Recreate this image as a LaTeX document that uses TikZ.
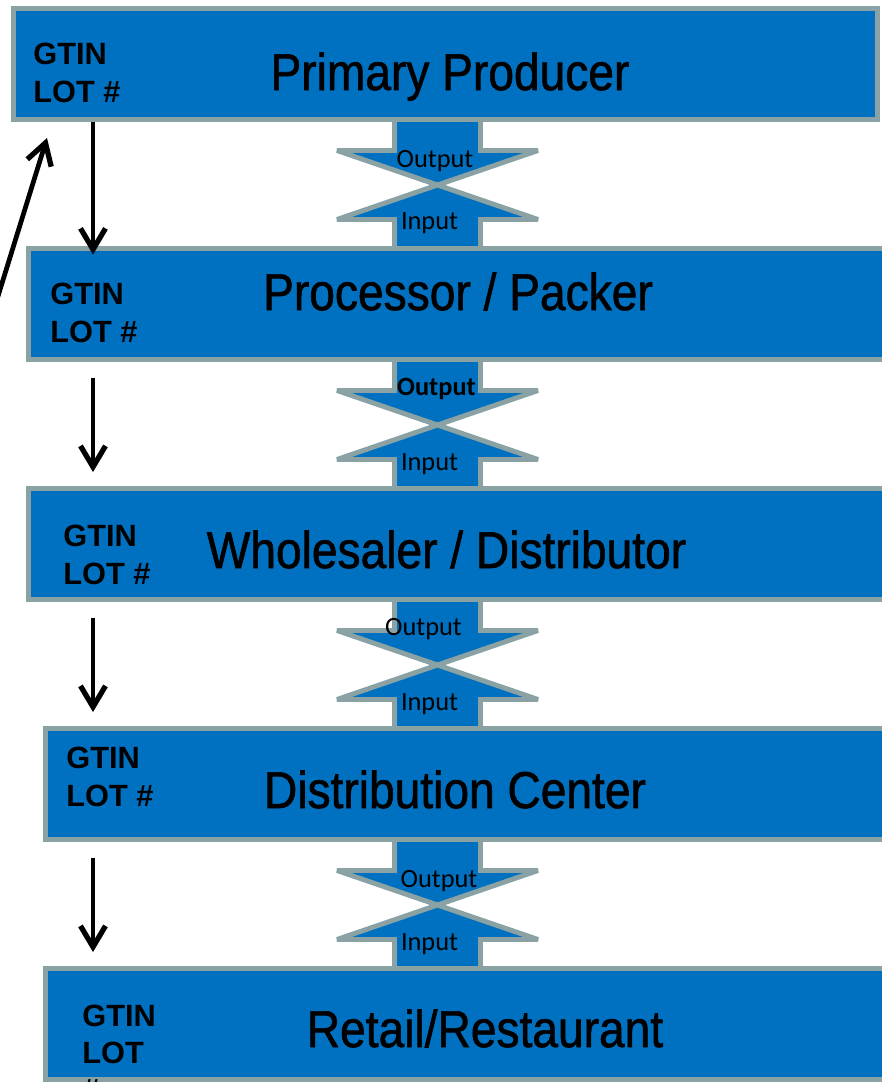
\documentclass[tikz,border=0pt]{standalone}
\usepackage{fontspec}
\setmainfont{Liberation Sans}
\newfontfamily\titlefont{Liberation Sans}[FakeStretch=0.89, FakeBold=1.2]
\newfontfamily\calibrifont{Carlito}
\definecolor{stageblue}{RGB}{0, 112, 192}
\definecolor{stagegray}{RGB}{138, 162, 164}
\usetikzlibrary{arrows.meta, calc}
\tikzset{
	stage/.style={rectangle, draw=stagegray, fill=stageblue, line width=2.8pt, minimum height=2.22cm, inner sep=0pt},
	stagename/.style={anchor=base, inner sep=0pt, font=\titlefont\fontsize{29.5}{34}\selectfont},
	tag/.style={anchor=base west, inner sep=0pt, font=\bfseries\fontsize{17.5}{21}\selectfont},
	io/.style={draw=stagegray, fill=stageblue, line width=2.8pt, line join=miter, miter limit=2},
	iolabel/.style={anchor=base, inner sep=0pt, font=\calibrifont\fontsize{15}{18}\selectfont},
	trace/.style={-{Straight Barb[length=0.42cm, width=0.5cm, line width=3pt]}, line width=2.7pt},
}

\begin{document}
\begin{tikzpicture}[x=0.02cm, y=-0.02cm]
	\fill[white] (0,0) rectangle (882,1082);
	\useasboundingbox (0,0) rectangle (882,1082);
	% output / input arrows between two stages
	\foreach \b in {119.5, 359.5, 599.5, 839.5} {
		\filldraw[io] (394.5,\b) -- (394.5,\b+31) -- (337,\b+31) -- (437.5,\b+65.5) -- (538,\b+31) -- (480.5,\b+31) -- (480.5,\b);
		\filldraw[io] (394.5,\b+129) -- (394.5,\b+100) -- (337,\b+100) -- (437.5,\b+65.5) -- (538,\b+100) -- (480.5,\b+100) -- (480.5,\b+129);
	}
	% stages
	\node[stage, minimum width=17.28cm] (pp) at (445.5,64) {};
	\node[stage, minimum width=17.23cm] (pk) at (459.25,304) {};
	\node[stage, minimum width=17.23cm] (wd) at (459.25,544) {};
	\node[stage, minimum width=16.9cm] (dc) at (467.5,784) {};
	\node[stage, minimum width=16.9cm] (rr) at (467.5,1024) {};
	\node[stagename] (t1) at (450,90) {Primary Producer};
	\node[stagename] (t2) at (458,310) {Processor / Packer};
	\node[stagename] (t3) at (446.5,568) {Wholesaler / Distributor};
	\node[stagename] (t4) at (455,808) {Distribution Center};
	\node[stagename] (t5) at (485,1047) {Retail/Restaurant};
	% codes carried by each stage
	\foreach \n/\x/\y in {1/33/64, 2/50/304, 3/63/546, 4/66/768} {
		\node[tag] (gtin\n) at (\x,\y) {GTIN};
		\node[tag] (lot\n) at (\x,\y+38) {LOT \#};
	}
	\node[tag] (gtin5) at (82,1026) {GTIN};
	\node[tag] (lot5) at (82,1063) {LOT};
	\node[tag] (hash5) at (82,1100) {\#};
	% output / input labels
	\node[iolabel] (out1) at (435,167) {Output};
	\node[iolabel] (in1) at (429.5,229.5) {Input};
	\node[iolabel] (out2) at (436.5,395) {\bfseries Output};
	\node[iolabel] (in2) at (429.5,470) {Input};
	\node[iolabel] (out3) at (423.5,635) {Output};
	\node[iolabel] (in3) at (429.5,710) {Input};
	\node[iolabel] (out4) at (439,887) {Output};
	\node[iolabel] (in4) at (429.5,950) {Input};
	% trace arrows
	\coordinate (ax) at (93,0);
	\coordinate (back) at (-10,322);
	\coordinate (ret) at (47,138);
	\draw[trace, shorten >=-0.17cm] (pp.south -| ax) -- (pk.north -| ax);
	\draw[trace, shorten <=0.33cm, shorten >=0.28cm] (pk.south -| ax) -- (wd.north -| ax);
	\draw[trace, shorten <=0.33cm, shorten >=0.28cm] (wd.south -| ax) -- (dc.north -| ax);
	\draw[trace, shorten <=0.33cm, shorten >=0.28cm] (dc.south -| ax) -- (rr.north -| ax);
	\draw[trace] (back) -- (ret);
\end{tikzpicture}
\end{document}
